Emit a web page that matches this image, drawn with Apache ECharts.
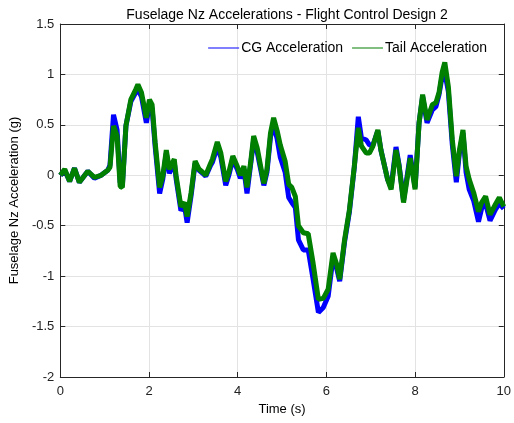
<!DOCTYPE html>
<html>
<head>
<meta charset="utf-8">
<script src="https://cdn.jsdelivr.net/npm/echarts@6/dist/echarts.min.js"></script>
<style>html,body{margin:0;padding:0;background:#fff}#c{width:514px;height:423px}</style>
</head>
<body>
<div id="c"></div>
<script>
// Time (s)
var time = [0.00,0.10,0.21,0.32,0.43,0.62,0.77,0.92,1.07,1.12,1.20,1.28,1.35,1.40,1.48,1.59,1.70,1.75,1.83,1.94,2.01,2.07,2.14,2.24,2.31,2.39,2.46,2.57,2.61,2.72,2.80,2.86,2.95,3.04,3.13,3.21,3.28,3.39,3.43,3.54,3.62,3.73,3.80,3.89,3.99,4.06,4.14,4.21,4.29,4.36,4.44,4.59,4.66,4.74,4.81,4.89,4.96,5.07,5.15,5.22,5.30,5.37,5.48,5.59,5.70,5.82,5.93,6.04,6.15,6.23,6.30,6.41,6.52,6.63,6.72,6.79,6.90,6.97,7.05,7.16,7.23,7.38,7.46,7.57,7.64,7.74,7.89,8.00,8.09,8.17,8.27,8.39,8.47,8.54,8.61,8.67,8.75,8.84,8.93,9.00,9.08,9.15,9.22,9.32,9.43,9.50,9.59,9.69,9.81,9.90,10.00];
// Tail acceleration (g)
var tailAcc = [0.00,0.06,-0.06,0.07,-0.07,0.04,-0.02,0.00,0.05,0.08,0.49,0.39,-0.11,-0.12,0.49,0.75,0.85,0.90,0.82,0.57,0.75,0.70,0.32,-0.12,-0.01,0.25,0.06,0.16,0.00,-0.31,-0.27,-0.41,-0.17,0.14,0.06,0.03,0.00,0.12,0.16,0.33,0.22,-0.06,0.03,0.19,0.09,0.00,0.09,-0.12,0.12,0.39,0.27,-0.08,0.06,0.42,0.57,0.44,0.30,0.14,-0.09,-0.12,-0.21,-0.50,-0.57,-0.58,-0.87,-1.23,-1.22,-1.13,-0.77,-0.88,-1.03,-0.64,-0.34,0.09,0.47,0.29,0.22,0.22,0.29,0.45,0.25,-0.04,-0.14,0.25,0.09,-0.27,0.17,-0.14,0.52,0.80,0.55,0.70,0.72,0.82,1.02,1.12,0.88,0.35,-0.01,0.25,0.45,0.09,-0.04,-0.17,-0.36,-0.27,-0.21,-0.39,-0.29,-0.22,-0.31];
// CG acceleration (g)
var cgAcc = [0.00,0.05,-0.06,0.07,-0.07,0.04,-0.03,0.00,0.05,0.10,0.60,0.45,-0.07,-0.10,0.49,0.73,0.82,0.85,0.78,0.52,0.70,0.66,0.28,-0.18,-0.04,0.22,0.02,0.13,-0.03,-0.35,-0.30,-0.47,-0.20,0.12,0.05,0.02,-0.01,0.10,0.13,0.28,0.18,-0.10,0.00,0.16,0.06,-0.03,0.06,-0.18,0.10,0.35,0.23,-0.10,0.03,0.38,0.50,0.36,0.18,0.03,-0.22,-0.27,-0.32,-0.64,-0.74,-0.74,-1.03,-1.36,-1.31,-1.20,-0.82,-0.92,-1.05,-0.66,-0.36,0.08,0.58,0.37,0.35,0.30,0.30,0.44,0.25,-0.04,-0.12,0.28,0.10,-0.25,0.20,-0.12,0.52,0.78,0.52,0.65,0.68,0.80,0.98,1.02,0.83,0.30,-0.07,0.22,0.42,0.03,-0.14,-0.25,-0.46,-0.33,-0.28,-0.45,-0.34,-0.28,-0.33];

var xTicks = [0,2,4,6,8,10];
var yTicks = [-2,-1.5,-1,-0.5,0,0.5,1,1.5];

function pairs(t, v){ return t.map(function(x,i){ return [x, v[i]]; }); }

var font = '"Liberation Sans", Arial, Helvetica, sans-serif';
var axisCol = '#262626';
var chart = echarts.init(document.getElementById('c'), null, {renderer:'canvas'});
chart.setOption({
  animation:false,
  backgroundColor:'#fff',
  title:{text:'Fuselage Nz Accelerations - Flight Control Design 2', left:282, top:3, textAlign:'center',
    textStyle:{fontFamily:font, fontSize:14, fontWeight:'normal', color:'#000'}},
  legend:{top:36, right:22, itemWidth:31, itemHeight:1, itemGap:9, icon:'rect',
    textStyle:{fontFamily:font, fontSize:14, color:'#000', padding:[0,0,0,-3]},
    data:['CG Acceleration','Tail Acceleration']},
  grid:{left:58, right:9, top:24, bottom:46},
  xAxis:[{type:'value', min:xTicks[0], max:xTicks[xTicks.length-1], interval:2,
    name:'Time (s)', nameLocation:'middle', nameGap:26,
    nameTextStyle:{fontFamily:font, fontSize:13, color:'#000'},
    axisLine:{show:true, onZero:false, lineStyle:{color:axisCol, width:1}},
    axisTick:{show:true, inside:true, length:5, lineStyle:{color:axisCol}},
    axisLabel:{fontFamily:font, fontSize:13, color:'#222', margin:8},
    splitLine:{show:true, lineStyle:{color:'#e3e3e3', width:1}}},
   {type:'value', position:'top', min:0, max:10, interval:2,
    axisLine:{show:true, onZero:false, lineStyle:{color:axisCol, width:1}},
    axisTick:{show:true, inside:true, length:5, lineStyle:{color:axisCol}},
    axisLabel:{show:false}, splitLine:{show:false}}],
  yAxis:[{type:'value', min:yTicks[0], max:yTicks[yTicks.length-1], interval:0.5,
    name:'Fuselage Nz Acceleration (g)', nameLocation:'middle', nameGap:32,
    nameTextStyle:{fontFamily:font, fontSize:13, color:'#000'},
    axisLine:{show:true, onZero:false, lineStyle:{color:axisCol, width:1}},
    axisTick:{show:true, inside:true, length:5, lineStyle:{color:axisCol}},
    axisLabel:{fontFamily:font, fontSize:13, color:'#222', margin:6},
    splitLine:{show:true, lineStyle:{color:'#e3e3e3', width:1}}},
   {type:'value', position:'right', min:-2, max:1.5, interval:0.5,
    axisLine:{show:true, onZero:false, lineStyle:{color:axisCol, width:1}},
    axisTick:{show:true, inside:true, length:5, lineStyle:{color:axisCol}},
    axisLabel:{show:false}, splitLine:{show:false}}],
  series:[
    {name:'CG Acceleration', type:'line', data:pairs(time, cgAcc), showSymbol:false, symbol:'none',
     color:'#0000ff', lineStyle:{color:'#0000ff', width:5}, z:2},
    {name:'Tail Acceleration', type:'line', data:pairs(time, tailAcc), showSymbol:false, symbol:'none',
     color:'#007f00', lineStyle:{color:'#007f00', width:5}, z:3}
  ]
});
</script>
</body>
</html>
